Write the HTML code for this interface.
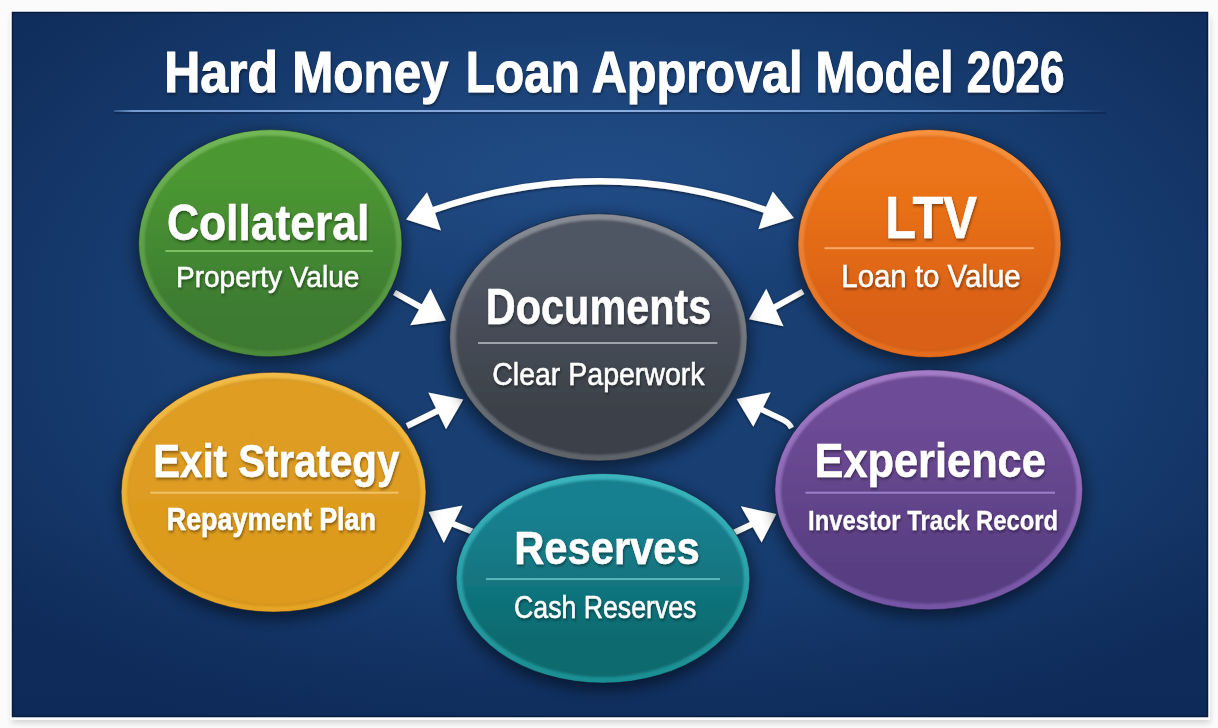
<!DOCTYPE html>
<html><head><meta charset="utf-8"><style>
html,body{margin:0;padding:0;background:#fbfbfb;}
svg{display:block;font-family:"Liberation Sans",sans-serif;}
</style></head><body>
<svg width="1218" height="728" viewBox="0 0 1218 728">
<defs>
<radialGradient id="glow" cx="600" cy="175" r="420" gradientUnits="userSpaceOnUse" gradientTransform="translate(600 175) scale(1 0.33) translate(-600 -175)">
<stop offset="0" stop-color="#204b84" stop-opacity="1"/><stop offset="1" stop-color="#23508c" stop-opacity="0"/></radialGradient>
<radialGradient id="vig" cx="620" cy="330" r="760" gradientUnits="userSpaceOnUse" gradientTransform="translate(620 330) scale(1 0.62) translate(-620 -330)">
<stop offset="0.6" stop-color="#081e48" stop-opacity="0"/><stop offset="1" stop-color="#081e48" stop-opacity="0.5"/></radialGradient>
<linearGradient id="botd" x1="0" y1="520" x2="0" y2="717" gradientUnits="userSpaceOnUse">
<stop offset="0" stop-color="#0a2350" stop-opacity="0"/><stop offset="1" stop-color="#0a2350" stop-opacity="0.4"/></linearGradient>
<linearGradient id="tline" x1="114" y1="0" x2="1106" y2="0" gradientUnits="userSpaceOnUse">
<stop offset="0" stop-color="#7fa6dc" stop-opacity="0.3"/><stop offset="0.02" stop-color="#7fa6dc" stop-opacity="0.9"/><stop offset="0.5" stop-color="#8db0e2" stop-opacity="1"/><stop offset="0.9" stop-color="#6b95cc" stop-opacity="0.85"/><stop offset="1" stop-color="#6b95cc" stop-opacity="0"/></linearGradient>
<filter id="fsh" x="-5%" y="-5%" width="110%" height="110%"><feGaussianBlur stdDeviation="3"/></filter>
<filter id="blur8" x="-30%" y="-30%" width="160%" height="160%"><feGaussianBlur stdDeviation="7"/></filter>
<filter id="soft" x="-5%" y="-5%" width="110%" height="110%"><feGaussianBlur stdDeviation="1.2"/></filter>
<filter id="tsh" x="-10%" y="-30%" width="120%" height="160%"><feDropShadow dx="1" dy="2" stdDeviation="1.4" flood-color="#000" flood-opacity="0.42"/></filter>
<filter id="ash" x="-10%" y="-10%" width="120%" height="120%"><feDropShadow dx="0" dy="1" stdDeviation="1.5" flood-color="#000" flood-opacity="0.6"/></filter>
<linearGradient id="gg" x1="0" y1="0" x2="0" y2="1"><stop offset="0.18" stop-color="#4c9832"/><stop offset="0.85" stop-color="#3c7a32"/></linearGradient><linearGradient id="rg" x1="0" y1="0" x2="0" y2="1"><stop offset="0" stop-color="#72b856"/><stop offset="0.5" stop-color="#5ea148"/><stop offset="1" stop-color="#4a8a3a"/></linearGradient><linearGradient id="go" x1="0" y1="0" x2="0" y2="1"><stop offset="0.18" stop-color="#ec741a"/><stop offset="0.85" stop-color="#d96016"/></linearGradient><linearGradient id="ro" x1="0" y1="0" x2="0" y2="1"><stop offset="0" stop-color="#f8923f"/><stop offset="0.5" stop-color="#ee7f2e"/><stop offset="1" stop-color="#e46c1c"/></linearGradient><linearGradient id="gk" x1="0" y1="0" x2="0" y2="1"><stop offset="0.18" stop-color="#505663"/><stop offset="0.85" stop-color="#3a4048"/></linearGradient><linearGradient id="rk" x1="0" y1="0" x2="0" y2="1"><stop offset="0" stop-color="#878c95"/><stop offset="0.5" stop-color="#72777f"/><stop offset="1" stop-color="#5e6269"/></linearGradient><linearGradient id="gy" x1="0" y1="0" x2="0" y2="1"><stop offset="0.18" stop-color="#df9e24"/><stop offset="0.85" stop-color="#dd9a1c"/></linearGradient><linearGradient id="ry" x1="0" y1="0" x2="0" y2="1"><stop offset="0" stop-color="#f3bb46"/><stop offset="0.5" stop-color="#ecb035"/><stop offset="1" stop-color="#e6a424"/></linearGradient><linearGradient id="gt" x1="0" y1="0" x2="0" y2="1"><stop offset="0.18" stop-color="#168090"/><stop offset="0.85" stop-color="#0e6a6e"/></linearGradient><linearGradient id="rt" x1="0" y1="0" x2="0" y2="1"><stop offset="0" stop-color="#3bb4be"/><stop offset="0.5" stop-color="#2aa1a8"/><stop offset="1" stop-color="#1a8e92"/></linearGradient><linearGradient id="gp" x1="0" y1="0" x2="0" y2="1"><stop offset="0.18" stop-color="#6e4c96"/><stop offset="0.85" stop-color="#583e82"/></linearGradient><linearGradient id="rp" x1="0" y1="0" x2="0" y2="1"><stop offset="0" stop-color="#a47cc8"/><stop offset="0.5" stop-color="#8c68b6"/><stop offset="1" stop-color="#7454a4"/></linearGradient>
</defs>
<rect x="12" y="17" width="1198" height="706" fill="#000" opacity="0.16" filter="url(#fsh)"/><rect x="10" y="10" width="1200" height="710" fill="#fdfdfd"/><rect x="12" y="12" width="1196" height="705" fill="#183e72"/><rect x="12" y="12" width="1196" height="705" fill="url(#glow)"/><rect x="12" y="12" width="1196" height="705" fill="url(#vig)"/><rect x="12" y="12" width="1196" height="705" fill="url(#botd)"/>
<rect x="12.5" y="12.5" width="1195" height="704" fill="none" stroke="#071c40" stroke-width="1.5"/>
<text transform="translate(164.15,92.20) scale(0.8830,1)" x="0" y="0" font-size="56.57" font-weight="700" fill="#fff" stroke="#fff" stroke-width="1" filter="url(#tsh)">Hard</text><text transform="translate(292.28,92.20) scale(0.8722,1)" x="0" y="0" font-size="56.57" font-weight="700" fill="#fff" stroke="#fff" stroke-width="1" filter="url(#tsh)">Money</text><text transform="translate(465.87,92.20) scale(0.8444,1)" x="0" y="0" font-size="56.57" font-weight="700" fill="#fff" stroke="#fff" stroke-width="1" filter="url(#tsh)">Loan</text><text transform="translate(591.64,92.20) scale(0.8606,1)" x="0" y="0" font-size="56.57" font-weight="700" fill="#fff" stroke="#fff" stroke-width="1" filter="url(#tsh)">Approval</text><text transform="translate(815.46,92.20) scale(0.8451,1)" x="0" y="0" font-size="56.57" font-weight="700" fill="#fff" stroke="#fff" stroke-width="1" filter="url(#tsh)">Model</text><text transform="translate(966.72,92.20) scale(0.7773,1)" x="0" y="0" font-size="56.57" font-weight="700" fill="#fff" stroke="#fff" stroke-width="1" filter="url(#tsh)">2026</text>
<rect x="114" y="112" width="992" height="2" fill="#061838" opacity="0.35"/><rect x="114" y="110" width="992" height="2" fill="url(#tline)"/>
<g filter="url(#ash)"><line x1="394.5" y1="292.5" x2="423.9" y2="308.9" stroke="#fff" stroke-width="6"/><polygon points="446.0,320.5 430.5,288.8 410.2,325.2" fill="#fff"/><line x1="803.0" y1="291.5" x2="771.3" y2="309.1" stroke="#fff" stroke-width="6"/><polygon points="749.0,319.2 766.3,288.8 783.5,326.2" fill="#fff"/><line x1="407.0" y1="426.0" x2="440.8" y2="409.3" stroke="#fff" stroke-width="6"/><polygon points="463.3,399.5 428.3,392.5 446.0,429.3" fill="#fff"/><path d="M758.4,408.0 L782.5,419.5 Q789,422.5 791.5,428" stroke="#fff" stroke-width="5.5" fill="none" stroke-linecap="butt"/><polygon points="736.6,399.0 770.8,392.2 753.3,426.8" fill="#fff"/><line x1="476.0" y1="533.0" x2="449.6" y2="522.5" stroke="#fff" stroke-width="6"/><polygon points="428.6,512.0 462.6,505.5 443.8,543.0" fill="#fff"/><line x1="729.0" y1="535.0" x2="754.9" y2="522.9" stroke="#fff" stroke-width="6"/><polygon points="776.3,514.0 740.8,506.3 761.6,542.5" fill="#fff"/><path d="M432,210.5 Q600,152 767,210.5" stroke="#fff" stroke-width="6.5" fill="none"/><polygon points="406.0,219.5 427.0,192.2 434.4,210.7 441.0,230.5" fill="#fff"/><polygon points="794.0,218.0 772.8,191.5 764.3,210.7 758.5,229.3" fill="#fff"/></g>
<ellipse cx="270.3" cy="248.2" rx="134.7" ry="116.6" fill="#000" opacity="0.45" filter="url(#blur8)"/><ellipse cx="270.3" cy="243.2" rx="131.7" ry="113.6" fill="url(#rg)"/><ellipse cx="270.3" cy="243.2" rx="125.19999999999999" ry="107.1" fill="url(#gg)" stroke="#000" stroke-opacity="0.12" stroke-width="1.2" filter="url(#soft)"/><ellipse cx="270.3" cy="243.2" rx="131.7" ry="113.6" fill="none" stroke="#06142c" stroke-opacity="0.5" stroke-width="1"/><ellipse cx="929.5" cy="248.5" rx="134.5" ry="117" fill="#000" opacity="0.45" filter="url(#blur8)"/><ellipse cx="929.5" cy="243.5" rx="131.5" ry="114" fill="url(#ro)"/><ellipse cx="929.5" cy="243.5" rx="125.0" ry="107.5" fill="url(#go)" stroke="#000" stroke-opacity="0.12" stroke-width="1.2" filter="url(#soft)"/><ellipse cx="929.5" cy="243.5" rx="131.5" ry="114" fill="none" stroke="#06142c" stroke-opacity="0.5" stroke-width="1"/><ellipse cx="598.4" cy="342.4" rx="151.8" ry="126.6" fill="#000" opacity="0.45" filter="url(#blur8)"/><ellipse cx="598.4" cy="337.4" rx="148.8" ry="123.6" fill="url(#rk)"/><ellipse cx="598.4" cy="337.4" rx="142.3" ry="117.1" fill="url(#gk)" stroke="#000" stroke-opacity="0.12" stroke-width="1.2" filter="url(#soft)"/><ellipse cx="598.4" cy="337.4" rx="148.8" ry="123.6" fill="none" stroke="#06142c" stroke-opacity="0.5" stroke-width="1"/><ellipse cx="273.6" cy="497.2" rx="155.4" ry="122.9" fill="#000" opacity="0.45" filter="url(#blur8)"/><ellipse cx="273.6" cy="492.2" rx="152.4" ry="119.9" fill="url(#ry)"/><ellipse cx="273.6" cy="492.2" rx="145.9" ry="113.4" fill="url(#gy)" stroke="#000" stroke-opacity="0.12" stroke-width="1.2" filter="url(#soft)"/><ellipse cx="273.6" cy="492.2" rx="152.4" ry="119.9" fill="none" stroke="#06142c" stroke-opacity="0.5" stroke-width="1"/><ellipse cx="603" cy="583.3" rx="149.8" ry="107.8" fill="#000" opacity="0.45" filter="url(#blur8)"/><ellipse cx="603" cy="578.3" rx="146.8" ry="104.8" fill="url(#rt)"/><ellipse cx="603" cy="578.3" rx="140.3" ry="98.3" fill="url(#gt)" stroke="#000" stroke-opacity="0.12" stroke-width="1.2" filter="url(#soft)"/><ellipse cx="603" cy="578.3" rx="146.8" ry="104.8" fill="none" stroke="#06142c" stroke-opacity="0.5" stroke-width="1"/><ellipse cx="928.7" cy="494.8" rx="156.9" ry="123" fill="#000" opacity="0.45" filter="url(#blur8)"/><ellipse cx="928.7" cy="489.8" rx="153.9" ry="120" fill="url(#rp)"/><ellipse cx="928.7" cy="489.8" rx="147.4" ry="113.5" fill="url(#gp)" stroke="#000" stroke-opacity="0.12" stroke-width="1.2" filter="url(#soft)"/><ellipse cx="928.7" cy="489.8" rx="153.9" ry="120" fill="none" stroke="#06142c" stroke-opacity="0.5" stroke-width="1"/>
<rect x="165.4" y="250" width="207.6" height="2" fill="#7cc063"/><rect x="824.5" y="247.2" width="209.5" height="2" fill="#f6a868"/><rect x="478" y="342" width="239.39999999999998" height="2" fill="#9da2aa"/><rect x="150.4" y="491.7" width="248.1" height="2" fill="#f1c266"/><rect x="486" y="578.1" width="234" height="2" fill="#5ab8bc"/><rect x="805.5" y="491.7" width="249.5" height="2" fill="#9a7fca"/>
<text transform="translate(166.89,240.20) scale(0.9037,1)" x="0" y="0" font-size="49.14" font-weight="700" fill="#fff" stroke="#fff" stroke-width="0.5" filter="url(#tsh)">Collateral</text><text transform="translate(175.98,286.60) scale(0.9583,1)" x="0" y="0" font-size="29.28" font-weight="400" fill="#fff" stroke="#fff" stroke-width="0.45" filter="url(#tsh)">Property Value</text><text transform="translate(885.32,238.00) scale(0.8588,1)" x="0" y="0" font-size="58.86" font-weight="700" fill="#fff" stroke="#fff" stroke-width="0.5" filter="url(#tsh)">LTV</text><text transform="translate(841.28,286.90) scale(0.9620,1)" x="0" y="0" font-size="30.58" font-weight="400" fill="#fff" stroke="#fff" stroke-width="0.5" filter="url(#tsh)">Loan to Value</text><text transform="translate(485.82,324.00) scale(0.8263,1)" x="0" y="0" font-size="50.14" font-weight="700" fill="#fff" stroke="#fff" stroke-width="0.5" filter="url(#tsh)">Documents</text><text transform="translate(492.28,384.90) scale(0.9194,1)" x="0" y="0" font-size="31.01" font-weight="400" fill="#fff" stroke="#fff" stroke-width="0.5" filter="url(#tsh)">Clear Paperwork</text><text transform="translate(153.18,476.90) scale(0.8728,1)" x="0" y="0" font-size="46.14" font-weight="700" fill="#fff" stroke="#fff" stroke-width="0.5" filter="url(#tsh)">Exit Strategy</text><text transform="translate(166.74,530.20) scale(0.8799,1)" x="0" y="0" font-size="30.57" font-weight="700" fill="#fff" stroke="#fff" stroke-width="0.5" filter="url(#tsh)">Repayment Plan</text><text transform="translate(514.24,563.50) scale(0.8850,1)" x="0" y="0" font-size="47.14" font-weight="700" fill="#fff" stroke="#fff" stroke-width="0.5" filter="url(#tsh)">Reserves</text><text transform="translate(514.04,618.20) scale(0.8607,1)" x="0" y="0" font-size="31.01" font-weight="400" fill="#fff" stroke="#fff" stroke-width="0.5" filter="url(#tsh)">Cash Reserves</text><text transform="translate(814.47,477.20) scale(0.9091,1)" x="0" y="0" font-size="47.71" font-weight="700" fill="#fff" stroke="#fff" stroke-width="0.5" filter="url(#tsh)">Experience</text><text transform="translate(808.05,530.20) scale(0.8460,1)" x="0" y="0" font-size="28.14" font-weight="700" fill="#fff" stroke="#fff" stroke-width="0.25" filter="url(#tsh)">Investor Track Record</text>
</svg>
</body></html>
